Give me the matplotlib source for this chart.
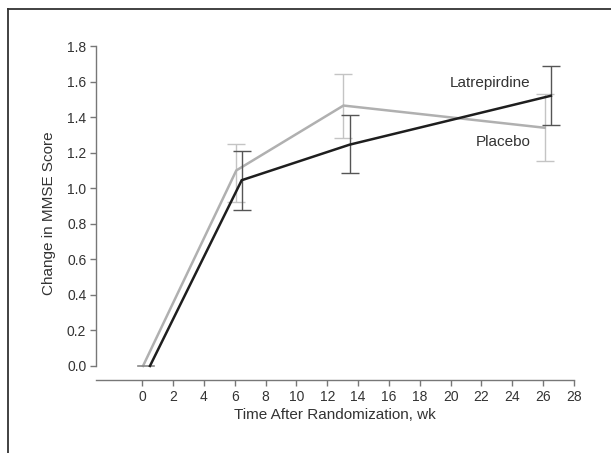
import matplotlib
matplotlib.use("Agg")
import matplotlib.pyplot as plt
from matplotlib.lines import Line2D
from matplotlib import font_manager

names = {f.name for f in font_manager.fontManager.ttflist}
fam = ['Liberation Sans Narrow', 'DejaVu Sans'] if 'Liberation Sans Narrow' in names else ['Liberation Sans', 'DejaVu Sans']
plt.rcParams['font.family'] = fam

placebo_weeks = [0.05, 6.1, 13.05, 26.1]
placebo_mean = [0.0, 1.10, 1.465, 1.34]
placebo_lo = [0.0, 0.925, 1.285, 1.155]
placebo_hi = [0.0, 1.25, 1.645, 1.53]

latre_weeks = [0.5, 6.45, 13.45, 26.5]
latre_mean = [0.0, 1.045, 1.245, 1.52]
latre_lo = [0.0, 0.88, 1.087, 1.355]
latre_hi = [0.0, 1.21, 1.41, 1.685]

xticks = list(range(0, 29, 2))
yticks = [0.0, 0.2, 0.4, 0.6, 0.8, 1.0, 1.2, 1.4, 1.6, 1.8]

fig = plt.figure(figsize=(6.11, 4.53), dpi=100)
ax = fig.add_axes([96/611, (453-380)/453, 478/611, (380-46)/453])

def draw(weeks, mean, lo, hi, lc, ec, z):
    yerr = [[m - l for m, l in zip(mean, lo)], [h - m for m, h in zip(mean, hi)]]
    ax.errorbar(weeks[1:], mean[1:], yerr=[yerr[0][1:], yerr[1][1:]], fmt='none',
                ecolor=ec, elinewidth=1.0, capsize=6.5, capthick=1.0, zorder=z)
    ax.plot(weeks, mean, color=lc, lw=1.8, zorder=z + 1, solid_joinstyle='miter')

draw(placebo_weeks, placebo_mean, placebo_lo, placebo_hi, '#b0b0b0', '#c4c4c4', 2)
draw(latre_weeks, latre_mean, latre_lo, latre_hi, '#1e1e1e', '#555555', 4)
# zero cap
ax.plot([-0.3, 0.75], [0, 0], color='#888888', lw=1.2, zorder=3)

ax.set_xlim(-3, 28)
ax.set_ylim(-0.079, 1.8)
ax.set_xticks(xticks)
ax.set_xticklabels([str(t) for t in xticks])
ax.set_yticks(yticks)
ax.set_yticklabels([f"{t:.1f}" for t in yticks])
for s in ['top', 'right']:
    ax.spines[s].set_visible(False)
ax.spines['left'].set_bounds(0, 1.8)
ax.spines['bottom'].set_bounds(-3, 28)
for s in ['left', 'bottom']:
    ax.spines[s].set_color('#777777')
    ax.spines[s].set_linewidth(1.0)
ax.tick_params(direction='out', length=4, width=1, color='#777777', labelcolor='#333333', labelsize=10, pad=3)

ax.set_xlabel('Time After Randomization, wk', fontsize=11, color='#333333', labelpad=3)
ax.set_ylabel('Change in MMSE Score', fontsize=11, color='#333333', labelpad=8)

ax.text(25.2, 1.59, 'Latrepirdine', ha='right', va='center', fontsize=11, color='#333333')
ax.text(25.2, 1.26, 'Placebo', ha='right', va='center', fontsize=11, color='#333333')

fig.add_artist(Line2D([8/611, 1.0], [1 - 9/453, 1 - 9/453], transform=fig.transFigure, color='#333333', lw=1.3))
fig.add_artist(Line2D([8/611, 8/611], [0, 1 - 9/453], transform=fig.transFigure, color='#333333', lw=1.3))

fig.savefig('out.png', dpi=100)
